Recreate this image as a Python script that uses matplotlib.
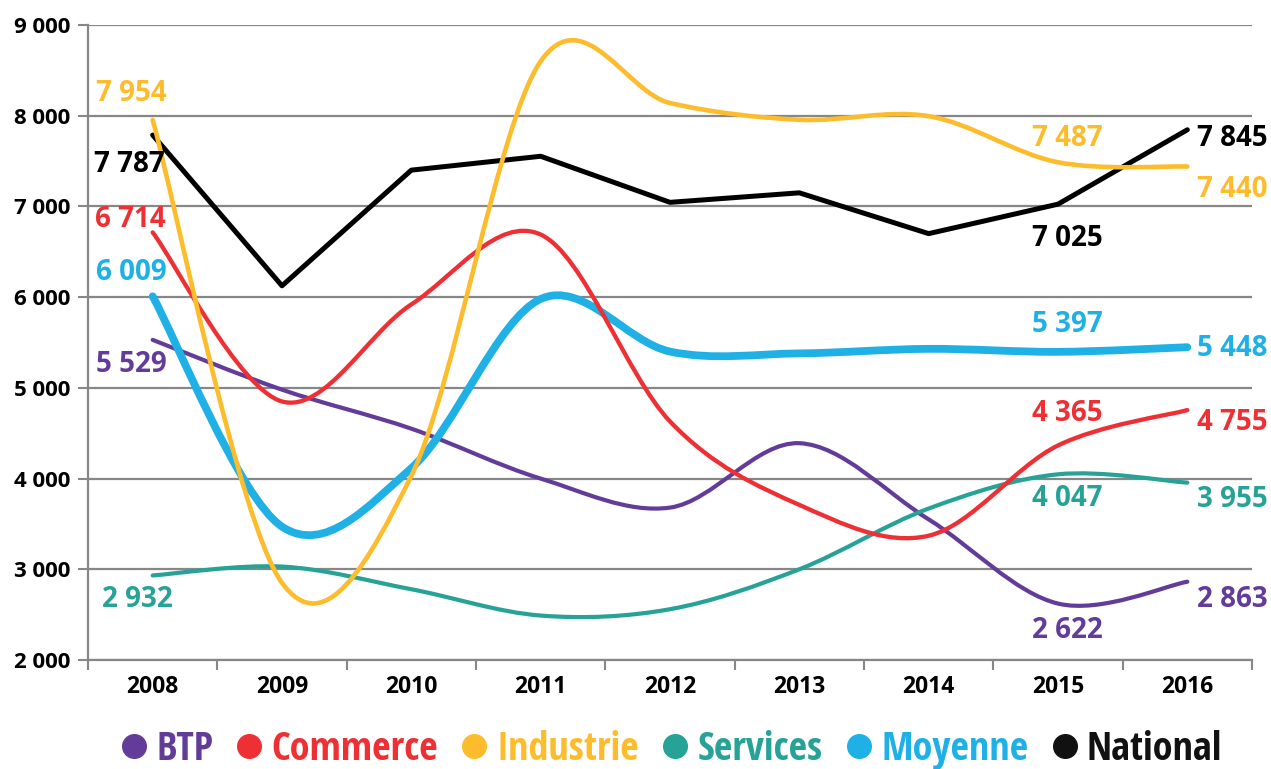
import numpy as np
import matplotlib
matplotlib.use('Agg')
import matplotlib.pyplot as plt
from matplotlib.path import Path
from matplotlib.patches import PathPatch
from matplotlib.lines import Line2D

years = ['2008', '2009', '2010', '2011', '2012', '2013', '2014', '2015', '2016']

btp = [5529, 4980, 4550, 4000, 3680, 4390, 3550, 2622, 2863]
commerce = [6714, 4850, 5920, 6690, 4630, 3710, 3370, 4365, 4755]
industrie = [7954, 2850, 4030, 8600, 8140, 7955, 7995, 7487, 7440]
services = [2932, 3030, 2780, 2490, 2560, 3000, 3670, 4047, 3955]
moyenne = [6009, 3470, 4115, 5980, 5400, 5380, 5430, 5397, 5448]
national = [7787, 6125, 7400, 7553, 7045, 7150, 6700, 7025, 7845]

# label positions (index, dx px, dy px)
labels_btp = [(0, -57, -25), (7, -26, -27), (8, 10, -18)]
labels_commerce = [(0, -58, 13), (7, -26, 32), (8, 10, -12)]
labels_industrie = [(0, -57, 26), (7, -26, 24), (8, 10, -23)]
labels_services = [(0, -51, -24), (7, -26, -24), (8, 10, -17)]
labels_moyenne = [(0, -57, 24), (7, -26, 27), (8, 10, -1)]
labels_national = [(0, -59, -29), (7, -26, -34), (8, 10, -9)]

C_BTP = '#633c99'
C_COM = '#ee3035'
C_IND = '#fdbc2c'
C_SER = '#26a297'
C_MOY = '#1fb0e6'
C_NAT = '#000000'

plt.rcParams['font.family'] = ['Open Sans', 'DejaVu Sans']
plt.rcParams['font.weight'] = 'bold'


def smooth_path(xs, ys):
    """excel-like smoothed line as a bezier path"""
    pts = np.column_stack([xs, ys]).astype(float)
    n = len(pts)
    verts = [pts[0]]
    codes = [Path.MOVETO]
    for i in range(n - 1):
        p0 = pts[max(i - 1, 0)]
        p1 = pts[i]
        p2 = pts[i + 1]
        p3 = pts[min(i + 2, n - 1)]
        c1 = p1 + (p2 - p0) / 6.0
        c2 = p2 - (p3 - p1) / 6.0
        verts += [c1, c2, p2]
        codes += [Path.CURVE4] * 3
    return Path(verts, codes)


def fmt(v):
    return '{:,}'.format(v).replace(',', ' ')


fig = plt.figure(figsize=(12.71, 7.69), dpi=100)
ax = fig.add_axes([88 / 1271, 1 - 660 / 769, 1164 / 1271, 635 / 769])

x = np.arange(len(years))

ax.plot(x, national, color=C_NAT, lw=3.6, zorder=3, solid_capstyle='round')
series = [
    (btp, C_BTP, 3.0, 4),
    (services, C_SER, 3.0, 4),
    (moyenne, C_MOY, 5.6, 5),
    (commerce, C_COM, 3.1, 6),
    (industrie, C_IND, 3.3, 7),
]
for vals, col, lw, z in series:
    p = PathPatch(smooth_path(x, vals), facecolor='none', edgecolor=col, lw=lw,
                  capstyle='round', zorder=z)
    ax.add_patch(p)

for vals, col, labs in [(btp, C_BTP, labels_btp), (commerce, C_COM, labels_commerce),
                        (industrie, C_IND, labels_industrie), (services, C_SER, labels_services),
                        (moyenne, C_MOY, labels_moyenne), (national, C_NAT, labels_national)]:
    for i, dx, dy in labs:
        ax.annotate(fmt(vals[i]), (x[i], vals[i]), xytext=(dx, dy), textcoords='offset pixels',
                    ha='left', va='center', color=col, fontsize=20, fontweight='bold',
                    annotation_clip=False, zorder=10)

ax.set_xlim(-0.5, 8.5)
ax.set_ylim(2000, 9000)
ax.set_yticks(range(2000, 9001, 1000))
ax.set_yticklabels([fmt(v) for v in range(2000, 9001, 1000)])
ax.yaxis.grid(True, color='#878787', lw=1.6)
ax.set_axisbelow(True)

ax.set_xticks(np.arange(-0.5, 9, 1))
ax.set_xticklabels([])
ax.set_xticks(x, minor=True)
ax.set_xticklabels(years, minor=True)
ax.tick_params(axis='x', which='major', length=7, width=1.5, color='#878787', direction='out')
ax.tick_params(axis='x', which='minor', length=0, pad=11, labelsize=16.5)
ax.tick_params(axis='y', length=7, width=1.5, color='#878787', pad=6, labelsize=16)

for s in ['top', 'right']:
    ax.spines[s].set_visible(False)
for s in ['left', 'bottom']:
    ax.spines[s].set_color('#878787')
    ax.spines[s].set_linewidth(1.6)

names = ['BTP', 'Commerce', 'Industrie', 'Services', 'Moyenne', 'National']
cols = [C_BTP, C_COM, C_IND, C_SER, C_MOY, '#111111']
handles = [Line2D([], [], ls='none', marker='o', markersize=17, color=c) for c in cols]
leg = fig.legend(handles, names, loc='center', bbox_to_anchor=(672 / 1271, 1 - 750 / 769),
                 ncol=6, frameon=False, handlelength=0.6, handletextpad=0.25,
                 columnspacing=0.6, labelcolor=cols,
                 prop={'family': ['Open Sans Condensed', 'Open Sans'], 'weight': 'bold',
                       'stretch': 'condensed', 'size': 29})

fig.savefig('out.png', dpi=100)
